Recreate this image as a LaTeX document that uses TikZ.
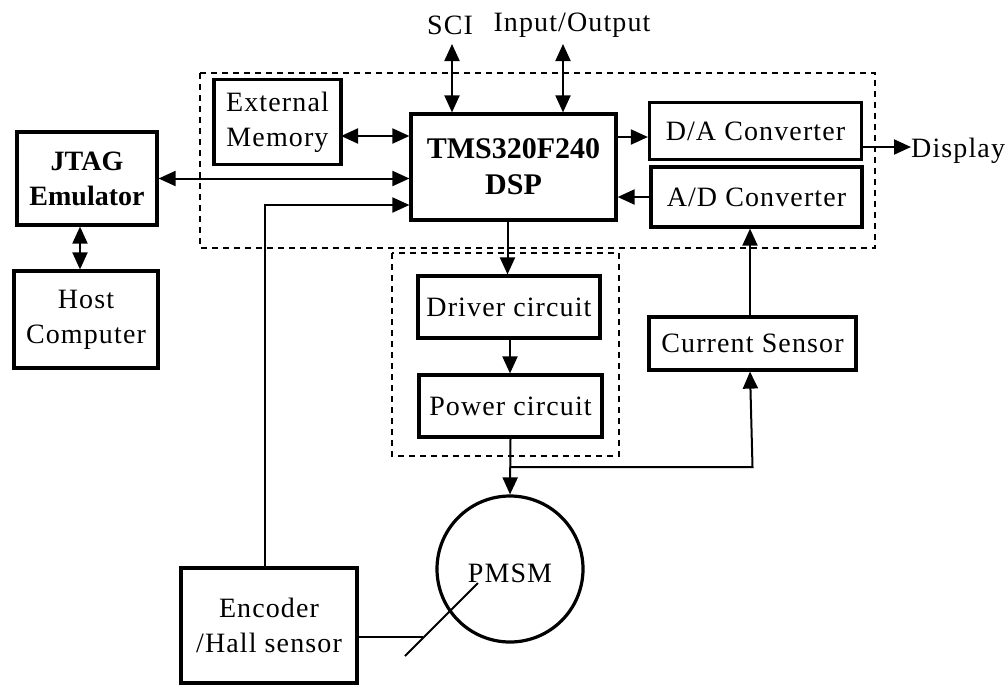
\documentclass[tikz,border=0pt]{standalone}
\usepackage{fontspec}
\setmainfont{Liberation Serif}
\usetikzlibrary{arrows.meta}
\begin{document}
\begin{tikzpicture}[x=1pt,y=-1pt,
  box/.style={draw,line width=3.2pt,rectangle,inner sep=0pt,align=center,
    font=\fontsize{28}{35}\selectfont\addfontfeature{LetterSpace=4}},
  lbl/.style={inner sep=0pt,font=\fontsize{28}{35}\selectfont\addfontfeature{LetterSpace=4}},
  conn/.style={line width=2pt},
  tip/.style={-{Triangle[length=17pt,width=15pt]}},
  dtip/.style={{Triangle[length=17pt,width=15pt]}-{Triangle[length=17pt,width=15pt]}},
  grp/.style={dashed,line width=1.4pt,dash pattern=on 6pt off 5pt}]
\useasboundingbox (0,0) rectangle (1008,686);
% groups
\draw[grp] (200,73) rectangle (875,248);
\draw[grp] (392,253) rectangle (619,456);
% nodes
\node[box,minimum width=127,minimum height=85] (ext) at (277.5,122) {External\\Memory};
\node[box,minimum width=140,minimum height=93,font=\fontsize{28}{35}\selectfont\bfseries] (jtag) at (87,178.5) {JTAG\\Emulator};
\node[box,minimum width=144,minimum height=97] (host) at (86,319.5) {Host\\Computer};
\node[box,minimum width=205,minimum height=106,font=\fontsize{30}{36}\selectfont\bfseries] (dsp) at (513.5,167) {TMS320F240\\DSP};
\node[box,minimum width=212,minimum height=57] (da) at (755.5,131) {D/A Converter};
\node[box,minimum width=211,minimum height=60] (ad) at (756.5,197) {A/D Converter};
\node[box,minimum width=182,minimum height=62] (drv) at (509,307) {Driver circuit};
\node[box,minimum width=183,minimum height=62] (pow) at (510.5,406) {Power circuit};
\node[box,minimum width=207,minimum height=53] (cs) at (752.5,343.5) {Current Sensor};
\node[box,circle,minimum size=146] (pmsm) at (510,569) {};
\node[lbl] (pmsmt) at (510,573) {PMSM};
\node[box,minimum width=176,minimum height=115] (enc) at (269,625.5) {Encoder\\/Hall sensor};
\node[lbl,anchor=west] (disp) at (911,151) {Display};
\node[lbl] (sci) at (450,25) {SCI};
\node[lbl] (io) at (572,25) {Input/Output};
% connectors
\coordinate (scitop) at (452,44);
\coordinate (iotop) at (563,44);
\draw[conn,dtip] (scitop) -- (scitop |- dsp.north);
\draw[conn,dtip] (iotop) -- (iotop |- dsp.north);
\coordinate (extout) at (341,136);
\draw[conn,dtip] (extout) -- (extout -| dsp.west);
\draw[conn,dtip] (jtag.east) -- (jtag.east -| dsp.west);
\draw[conn,dtip] ([xshift=-7]jtag.south) -- ([xshift=-7]jtag.south |- host.north);
\coordinate (encup) at (265,205);
\draw[conn,tip] (encup |- enc.north) -- (encup) -- (encup -| dsp.west);
\coordinate (dspout) at (616,137);
\draw[conn,tip] (dspout) -- (dspout -| da.west);
\draw[conn,tip] (ad.west) -- (ad.west -| dsp.east);
\coordinate (daout) at (862,147);
\draw[conn,tip] (daout) -- (daout -| disp.west);
\draw[conn,tip] ([xshift=-6]dsp.south) -- ([xshift=-6]dsp.south |- drv.north);
\draw[conn,tip] ([xshift=1]drv.south) -- ([xshift=1]drv.south |- pow.north);
\draw[conn,tip] (pow.south) -- (pmsm.north);
\coordinate (junc) at (510,467);
\draw[conn,tip] (junc) -- (junc -| cs.south) -- ([xshift=-2.5]cs.south);
\draw[conn,tip] ([xshift=-2.5]cs.north) -- ([xshift=-2.5]cs.north |- ad.south);
\coordinate (encend) at (423,637);
\draw[conn] (enc.east |- encend) -- (encend);
\coordinate (diag1) at (405,656);
\coordinate (diag2) at (478,583);
\draw[conn] (diag1) -- (diag2);
\end{tikzpicture}
\end{document}
